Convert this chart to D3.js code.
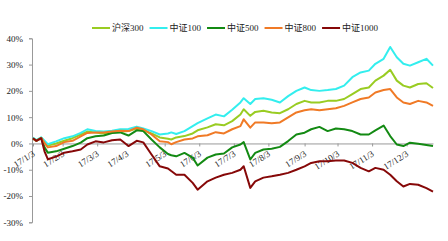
<!DOCTYPE html>
<html>
<head>
<meta charset="utf-8">
<script src="https://cdn.jsdelivr.net/npm/d3@7"></script>
<style>
  body { margin: 0; background: #fff; }
  text { font-family: "Liberation Serif", "Noto Sans CJK SC", serif; }
</style>
</head>
<body>
<svg id="chart"></svg>
<script>
const names = ["沪深300", "中证100", "中证500", "中证800", "中证1000"];
const colors = ["#99cc22", "#33eeee", "#138a13", "#f07a26", "#860808"];

// trading-day index of each sample
const days = [0, 2, 5, 7, 9, 14, 19, 24, 29, 33, 38, 43, 48, 53, 58, 63, 67, 72, 77, 82,
  84, 87, 92, 97, 100, 106, 111, 116, 121, 126, 128, 132, 135, 140, 145, 150, 155, 160, 165, 169,
  174, 179, 184, 189, 194, 199, 204, 208, 213, 217, 221, 225, 229, 234, 239, 243];

const hs300 = [2, 1.2, 2.2, 0.6, -0.8, 0, 1, 2, 3.4, 4.5, 4.2, 3.8, 4.2, 4.4, 4.7, 5.7, 5, 3.8, 2.3, 1.8,
  1.5, 2.3, 2.8, 3.8, 5, 6.1, 7.3, 6.9, 8.5, 11, 13, 10.5, 12, 12.4, 11.8, 11.5, 13, 15, 16.2, 15.6,
  15.6, 16.2, 16.2, 16.9, 18.8, 20.7, 21.3, 23.9, 25.8, 28, 23.9, 22, 21.3, 22.6, 22.9, 21.1];
const zz100 = [2.2, 1.3, 2.3, 1, -0.3, 0.8, 2, 2.7, 4, 5.4, 4.7, 4.5, 4.8, 5.4, 5.5, 6.4, 5.7, 4.7, 3.4, 3.8,
  4.2, 3.6, 4.7, 6.6, 7.7, 9.5, 11, 10.3, 12.8, 15.6, 17.2, 15, 16.9, 17.2, 16.6, 15.6, 18, 20, 21.3, 20.3,
  20, 20.3, 20.7, 22, 25.2, 27, 27.7, 30.3, 32.2, 36.7, 32.8, 30.3, 29.6, 30.9, 32.2, 29.6];
const zz500 = [1.8, 1, 2, -1.5, -3.5, -3, -2, -1, 0.3, 2, 2.7, 3, 4, 4.2, 3, 5, 4.7, 1.5, -1.5, -4,
  -4.5, -4.9, -3.6, -5.4, -8.4, -5.4, -4.2, -3.8, -1.5, -0.4, 0.5, -6.1, -3.6, -2.3, -2, -1.3, 0.9, 3.4, 4.1, 5.4,
  6.3, 4.7, 5.7, 5.4, 4.7, 3.4, 3.4, 5, 6.8, 2.8, -0.4, -1, 0.3, -0.1, -0.6, -1];
const zz800 = [1.8, 1, 2, 0.2, -1.5, -1, 0.5, 1, 2.7, 4, 4.2, 4.2, 4.5, 4.8, 4.7, 6, 5.4, 3.4, 0.8, 0.5,
  -0.3, 0.5, 1.5, 1.9, 2.7, 3.1, 4.3, 3.8, 5.4, 6.6, 9.2, 6, 8, 8, 7.7, 8, 9.9, 11.8, 12.6, 13,
  12.6, 13, 13.4, 14.3, 15.6, 16.9, 17.5, 19.4, 20.3, 20.7, 17.5, 15.6, 15, 16.2, 15.6, 14.3];
const zz1000 = [2, 1, 2, -3, -6, -5, -3.5, -3, -2.3, -0.4, 0.8, 0.4, 1.2, 1.5, -1, 1, 0.4, -4.2, -8.7, -9.5,
  -10.5, -11.9, -11.9, -15, -17.6, -14.4, -13, -11.9, -11.2, -10, -8.7, -16.9, -14.4, -13, -12.5, -11.9, -11.2, -10, -8.7, -7.4,
  -6.8, -6.8, -6.5, -6.5, -7.4, -9.3, -10.6, -9.3, -10, -11.9, -14.4, -16.4, -15.4, -15.7, -17, -18.3];
const series = [hs300, zz100, zz500, zz800, zz1000];

const tickDays = [0, 18, 39, 57, 80, 101, 122, 143, 165, 185, 206, 227];
const tickLabels = ["17/1/3", "17/2/3", "17/3/3", "17/4/3", "17/5/3", "17/6/3",
  "17/7/3", "17/8/3", "17/9/3", "17/10/3", "17/11/3", "17/12/3"];
const yTicks = [-30, -20, -10, 0, 10, 20, 30, 40];

const width = 448, height = 241;
const svg = d3.select("#chart").attr("width", width).attr("height", height);

const x = d3.scaleLinear().domain([0, 243]).range([33, 433]);
const y = d3.scaleLinear().domain([-30, 40]).range([222.3, 38.3]);

// y axis
const yAxis = svg.append("g")
  .attr("transform", `translate(${x(0) - 1},0)`)
  .call(d3.axisLeft(y).tickValues(yTicks).tickSize(3).tickPadding(6).tickFormat(d => d + "%"));
yAxis.select(".domain").attr("stroke", "#999");
yAxis.selectAll(".tick line").attr("stroke", "#999");
yAxis.selectAll("text").attr("font-size", 9).attr("fill", "#222");

// zero line with month ticks
const xAxis = svg.append("g")
  .attr("transform", `translate(0,${y(0)})`)
  .call(d3.axisBottom(x).tickValues(tickDays).tickSize(3).tickSizeOuter(0)
    .tickFormat((d, i) => tickLabels[i]));
xAxis.select(".domain").attr("stroke", "#999");
xAxis.selectAll(".tick line").attr("stroke", "#999");
xAxis.selectAll("text")
  .attr("font-size", 9)
  .attr("fill", "#222")
  .attr("text-anchor", "end")
  .attr("dy", null)
  .attr("y", 0)
  .attr("transform", "translate(2,12) rotate(-32)");

// lines
const line = d3.line()
  .x((d, i) => x(days[i]))
  .y(d => y(d));

svg.append("g")
  .selectAll("path")
  .data(series)
  .join("path")
  .attr("d", line)
  .attr("fill", "none")
  .attr("stroke", (d, i) => colors[i])
  .attr("stroke-width", 2)
  .attr("stroke-linejoin", "round");

// legend
const legend = svg.append("g").attr("transform", "translate(92,28)");
let lx = 0;
names.forEach((name, i) => {
  const g = legend.append("g").attr("transform", `translate(${lx},0)`);
  g.append("line")
    .attr("x1", 0).attr("x2", 18)
    .attr("stroke", colors[i]).attr("stroke-width", 2);
  const t = g.append("text")
    .attr("x", 20).attr("dy", "0.35em")
    .attr("font-size", 9).attr("fill", "#222")
    .text(name);
  lx += 20 + t.node().getComputedTextLength() + 6;
});
</script>
</body>
</html>
